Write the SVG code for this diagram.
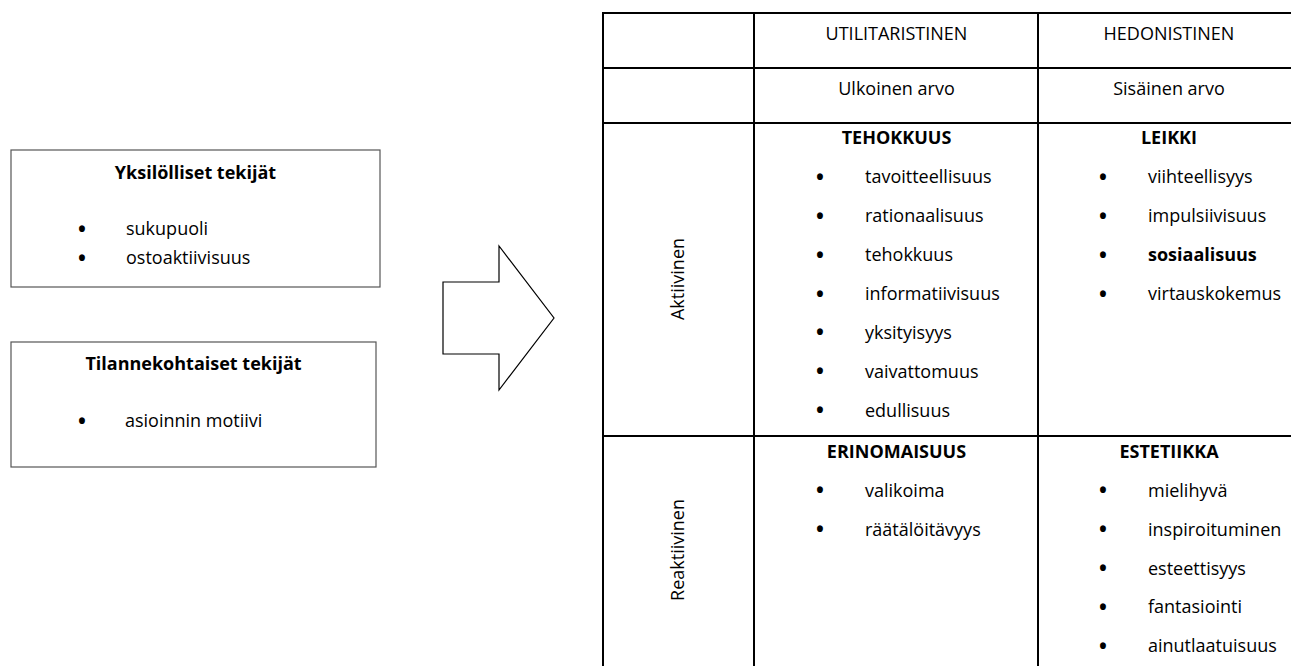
<svg xmlns="http://www.w3.org/2000/svg" width="1291" height="666" viewBox="0 0 1291 666">
<style>
text{font-family:"Open Sans","Liberation Sans",sans-serif;font-size:18px;fill:#000}
.b{font-weight:bold}
.c{text-anchor:middle}
.bl{text-anchor:middle;font-size:21px;font-weight:bold}
.box{fill:#fff;stroke:#555;stroke-width:1.2}
.tbl{fill:none;stroke:#000;stroke-width:2}
.arrow{fill:#fff;stroke:#000;stroke-width:1.2;stroke-linejoin:miter}
</style>
<rect width="1291" height="666" fill="#fff"/>

<g id="box-yksilolliset">
<rect class="box" x="11" y="150" width="369" height="137"/>
<text class="b c" x="195.5" y="179">Yksilölliset tekijät</text>
<text class="bl" x="82" y="235" dy="1.5">•</text><text x="126" y="235">sukupuoli</text>
<text class="bl" x="82" y="264" dy="1.5">•</text><text x="126" y="264">ostoaktiivisuus</text>
</g>

<g id="box-tilannekohtaiset">
<rect class="box" x="11" y="342" width="365" height="125"/>
<text class="b c" x="193.5" y="370">Tilannekohtaiset tekijät</text>
<text class="bl" x="82" y="427" dy="1.5">•</text><text x="125" y="427">asioinnin motiivi</text>
</g>

<g id="connectors">
<polygon class="arrow" points="443,282 499,282 499,246 554,318 499,390 499,354 443,354"/>
</g>

<g id="table">
<rect class="tbl" x="603" y="13" width="697" height="700"/>
<line class="tbl" x1="754" y1="13" x2="754" y2="713"/>
<line class="tbl" x1="1038" y1="13" x2="1038" y2="713"/>
<line class="tbl" x1="603" y1="68" x2="1300" y2="68"/>
<line class="tbl" x1="603" y1="123" x2="1300" y2="123"/>
<line class="tbl" x1="603" y1="436" x2="1300" y2="436"/>
</g>

<g id="header-utilitaristinen">
<text class="c" x="896.5" y="40">UTILITARISTINEN</text>
<text class="c" x="896.5" y="95">Ulkoinen arvo</text>
</g>
<g id="header-hedonistinen">
<text class="c" x="1169" y="40">HEDONISTINEN</text>
<text class="c" x="1169" y="95">Sisäinen arvo</text>
</g>

<g id="row-aktiivinen">
<text class="c" transform="translate(684,279) rotate(-90)">Aktiivinen</text>
</g>
<g id="row-reaktiivinen">
<text class="c" transform="translate(684,550) rotate(-90)">Reaktiivinen</text>
</g>

<g id="cell-tehokkuus">
<text class="b c" x="896.5" y="144">TEHOKKUUS</text>
<text class="bl" x="820" y="183.3" dy="1.5">•</text><text x="865" y="183.3">tavoitteellisuus</text>
<text class="bl" x="820" y="222.2" dy="1.5">•</text><text x="865" y="222.2">rationaalisuus</text>
<text class="bl" x="820" y="261.1" dy="1.5">•</text><text x="865" y="261.1">tehokkuus</text>
<text class="bl" x="820" y="300" dy="1.5">•</text><text x="865" y="300">informatiivisuus</text>
<text class="bl" x="820" y="338.9" dy="1.5">•</text><text x="865" y="338.9">yksityisyys</text>
<text class="bl" x="820" y="377.8" dy="1.5">•</text><text x="865" y="377.8">vaivattomuus</text>
<text class="bl" x="820" y="416.7" dy="1.5">•</text><text x="865" y="416.7">edullisuus</text>
</g>

<g id="cell-leikki">
<text class="b c" x="1169" y="144">LEIKKI</text>
<text class="bl" x="1103" y="183.3" dy="1.5">•</text><text x="1148" y="183.3">viihteellisyys</text>
<text class="bl" x="1103" y="222.2" dy="1.5">•</text><text x="1148" y="222.2">impulsiivisuus</text>
<text class="bl" x="1103" y="261.1" dy="1.5">•</text><text class="b" x="1148" y="261.1">sosiaalisuus</text>
<text class="bl" x="1103" y="300" dy="1.5">•</text><text x="1148" y="300">virtauskokemus</text>
</g>

<g id="cell-erinomaisuus">
<text class="b c" x="896.5" y="458">ERINOMAISUUS</text>
<text class="bl" x="820" y="496.7" dy="1.5">•</text><text x="865" y="496.7">valikoima</text>
<text class="bl" x="820" y="535.6" dy="1.5">•</text><text x="865" y="535.6">räätälöitävyys</text>
</g>

<g id="cell-estetiikka">
<text class="b c" x="1169" y="458">ESTETIIKKA</text>
<text class="bl" x="1103" y="496.7" dy="1.5">•</text><text x="1148" y="496.7">mielihyvä</text>
<text class="bl" x="1103" y="535.6" dy="1.5">•</text><text x="1148" y="535.6">inspiroituminen</text>
<text class="bl" x="1103" y="574.5" dy="1.5">•</text><text x="1148" y="574.5">esteettisyys</text>
<text class="bl" x="1103" y="613.4" dy="1.5">•</text><text x="1148" y="613.4">fantasiointi</text>
<text class="bl" x="1103" y="652.3" dy="1.5">•</text><text x="1148" y="652.3">ainutlaatuisuus</text>
</g>
</svg>
